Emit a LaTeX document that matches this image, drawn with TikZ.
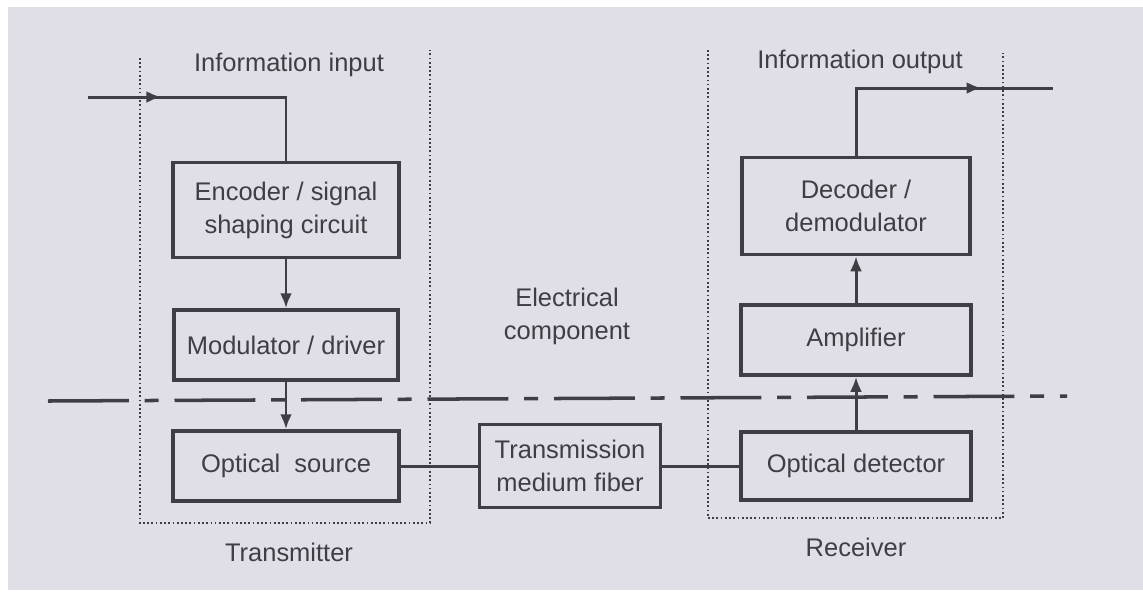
\documentclass[tikz,border=0pt]{standalone}
\usepackage{fontspec}
\setmainfont{Liberation Sans}
\usetikzlibrary{arrows.meta,positioning,decorations.markings}
\definecolor{paper}{RGB}{224,223,231}
\definecolor{ink}{RGB}{62,62,68}
\newcommand\blockfont{\fontsize{14.5}{18.7}\selectfont}
\tikzset{
  >={Latex[length=3mm,width=2.4mm]},
  block/.style={draw=ink,line width=2pt,align=center,font=\blockfont,text=ink,inner sep=2pt},
  link/.style={draw=ink,line width=1.7pt},
  flow/.style={->,link},
  midarrow/.style={postaction={decorate},decoration={markings,mark=at position #1 with {\arrow{>}}}},
  frame/.style={draw=ink,line width=0.9pt,dash pattern=on 1pt off 1.4pt},
  sep/.style={draw=ink,line width=2pt,dash pattern=on 46pt off 9pt on 8pt off 9pt},
  tag/.style={font=\blockfont,text=ink,align=center},
}
\begin{document}
\begin{tikzpicture}[x=0.02cm,y=-0.02cm]
  \fill[white] (0,0) rectangle (1143,593);
  \fill[paper] (8,7) rectangle (1143,590);
  \useasboundingbox (0,0) rectangle (1143,593);
  % transmitter side
  \node[block,minimum width=4.52cm,minimum height=1.9cm] (enc) at (286,210) {Encoder / signal\\shaping circuit};
  \node[block,minimum width=4.48cm,minimum height=1.4cm] (mod) at (286,345) {Modulator / driver};
  \node[block,minimum width=4.52cm,minimum height=1.4cm] (src) at (286,466) {Optical\ \ source};
  % channel
  \node[block,minimum width=3.62cm,minimum height=1.66cm] (fib) at (570,466) {Transmission\\medium fiber};
  % receiver side
  \node[block,minimum width=4.6cm,minimum height=1.36cm] (det) at (856,466) {Optical detector};
  \node[block,minimum width=4.6cm,minimum height=1.4cm] (amp) at (856,340) {Amplifier};
  \node[block,minimum width=4.56cm,minimum height=1.94cm] (dec) at (856,206) {Decoder /\\demodulator};
  \foreach \a/\b in {enc/mod,mod/src,det/amp,amp/dec}
    \draw[flow] (\a) -- (\b);
  \draw[link] (src) -- (fib);
  \draw[link] (fib) -- (det);
  % input and output
  \coordinate (in) at (88,97);
  \coordinate (out) at (1053,88);
  \draw[link,midarrow=0.28] (in) -| (enc.north);
  \draw[link,midarrow=0.73] (dec.north) |- (out);
  % dotted frames
  \draw[frame] (140,58) -- (140,523) -- (430,523) -- (430,50);
  \draw[frame] (708,50) -- (708,518) -- (1003,518) -- (1003,53);
  % optical / electrical boundary
  \coordinate (sepL) at (48,401);
  \coordinate (sepR) at (1067,396);
  \draw[sep] (sepL) -- (sepR);
  % labels
  \node[tag] (inp) at (289,65) {Information input};
  \node[tag] (outp) at (860,62) {Information output};
  \node[tag] (elec) at (567,316) {Electrical\\component};
  \node[tag] (tx) at (289,552) {Transmitter};
  \node[tag] (rx) at (856,547) {Receiver};
\end{tikzpicture}
\end{document}
